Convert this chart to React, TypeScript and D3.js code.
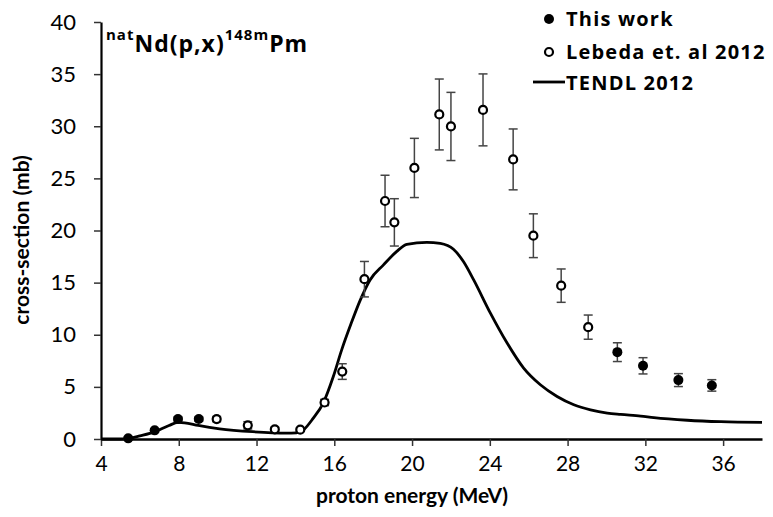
import React, { useEffect, useRef } from "react";
import * as d3 from "d3";

// This work (filled circles)
const twEnergy = [5.4, 6.76, 7.96, 9.03, 30.56, 31.88, 33.7, 35.42];
const twXs = [0.06, 0.83, 1.91, 1.91, 8.33, 7.02, 5.65, 5.14];
const twErr = [0.1, 0.15, 0.2, 0.2, 0.9, 0.78, 0.62, 0.55];

// Lebeda et. al 2012 (open circles)
const lebEnergy = [9.95, 11.55, 12.94, 14.25, 15.5, 16.41, 17.55, 18.61, 19.09, 20.12, 21.4, 22.0, 23.65, 25.2, 26.24, 27.67, 29.06];
const lebXs = [1.91, 1.31, 0.93, 0.89, 3.5, 6.47, 15.33, 22.83, 20.78, 26.0, 31.13, 29.98, 31.57, 26.82, 19.5, 14.71, 10.73];
const lebErr = [0.25, 0.35, 0.2, 0.15, 0.3, 0.75, 1.7, 2.47, 2.27, 2.84, 3.4, 3.27, 3.45, 2.92, 2.1, 1.6, 1.16];

// TENDL 2012
const tendlEnergy = [4, 5, 5.4, 6, 6.76, 7.5, 7.96, 8.3, 9, 10.1, 11.8, 13.5, 14.06, 14.4, 14.92, 15.43, 15.95, 16.38, 16.85, 17.33, 17.84, 18.53, 19.2, 19.73, 20.76, 21.45, 22.13, 22.65, 23.17, 24.03, 24.89, 25.74, 26.6, 27.46, 28.32, 29.18, 30.04, 30.73, 31.76, 32.44, 34.16, 35.88, 38];
const tendlXs = [0, 0, 0.05, 0.3, 0.68, 1.3, 1.59, 1.55, 1.3, 0.98, 0.7, 0.56, 0.58, 0.85, 2.0, 3.45, 6.0, 8.55, 11.0, 13.3, 15.26, 16.7, 17.97, 18.68, 18.87, 18.77, 18.2, 17.0, 15.26, 12.07, 9.2, 6.8, 5.2, 4.08, 3.29, 2.8, 2.49, 2.36, 2.2, 2.05, 1.8, 1.66, 1.59];

const xTicks = [4, 8, 12, 16, 20, 24, 28, 32, 36];
const yTicks = [0, 5, 10, 15, 20, 25, 30, 35, 40];

const FONT = "Lato, 'Open Sans', sans-serif";
const WIDE = "'Open Sans', Lato, sans-serif";

export default function App() {
  const ref = useRef<SVGSVGElement>(null);

  useEffect(() => {
    const width = 773;
    const height = 517;
    const margin = { top: 22, right: 11, bottom: 78, left: 101 };
    const innerWidth = width - margin.left - margin.right;
    const innerHeight = height - margin.top - margin.bottom;

    const svg = d3.select(ref.current).attr("width", width).attr("height", height);
    svg.selectAll("*").remove();
    svg.append("rect").attr("width", width).attr("height", height).attr("fill", "white");

    const g = svg.append("g").attr("transform", `translate(${margin.left}, ${margin.top})`);

    const x = d3.scaleLinear().domain([4, 38]).range([0, innerWidth]);
    const y = d3.scaleLinear().domain([0, 40]).range([innerHeight, 0]);

    // Y axis
    const yAxis = g.append("g")
      .call(d3.axisLeft(y).tickValues(yTicks).tickSize(7).tickSizeOuter(0).tickPadding(18));
    yAxis.select(".domain").attr("stroke", "#000").attr("stroke-width", 2.2);
    yAxis.selectAll(".tick line").attr("stroke", "#333").attr("stroke-width", 1.5);
    yAxis.selectAll("text")
      .attr("font-family", FONT)
      .attr("font-size", 22)
      .attr("fill", "#000");

    // X axis
    const xAxis = g.append("g")
      .attr("transform", `translate(0, ${innerHeight})`)
      .call(d3.axisBottom(x).tickValues(xTicks).tickSize(7).tickSizeOuter(0).tickPadding(10));
    xAxis.select(".domain").attr("stroke", "#000").attr("stroke-width", 2.5);
    xAxis.selectAll(".tick line").attr("stroke", "#333").attr("stroke-width", 1.5);
    xAxis.selectAll("text")
      .attr("font-family", FONT)
      .attr("font-size", 21)
      .attr("fill", "#000");

    // TENDL curve
    const line = d3.line<number>()
      .x((d, i) => x(tendlEnergy[i]))
      .y(d => y(d))
      .curve(d3.curveMonotoneX);
    g.append("path")
      .datum(tendlXs)
      .attr("d", line)
      .attr("fill", "none")
      .attr("stroke", "#000")
      .attr("stroke-width", 2.8);

    const errorBars = (energy: number[], xs: number[], err: number[]) => {
      const eb = g.append("g").attr("stroke", "#444").attr("stroke-width", 1.5);
      energy.forEach((e, i) => {
        const cx = x(e);
        const y1 = y(xs[i] + err[i]);
        const y2 = y(xs[i] - err[i]);
        eb.append("line").attr("x1", cx).attr("x2", cx).attr("y1", y1).attr("y2", y2);
        eb.append("line").attr("x1", cx - 4.5).attr("x2", cx + 4.5).attr("y1", y1).attr("y2", y1);
        eb.append("line").attr("x1", cx - 4.5).attr("x2", cx + 4.5).attr("y1", y2).attr("y2", y2);
      });
    };

    // Lebeda points
    errorBars(lebEnergy, lebXs, lebErr);
    g.selectAll(".leb")
      .data(lebEnergy)
      .enter()
      .append("circle")
      .attr("cx", d => x(d))
      .attr("cy", (d, i) => y(lebXs[i]))
      .attr("r", 4)
      .attr("fill", "white")
      .attr("stroke", "#000")
      .attr("stroke-width", 2.2);

    // This work points
    errorBars(twEnergy, twXs, twErr);
    g.selectAll(".tw")
      .data(twEnergy)
      .enter()
      .append("circle")
      .attr("cx", d => x(d))
      .attr("cy", (d, i) => y(twXs[i]))
      .attr("r", 5)
      .attr("fill", "#000");

    // axis titles
    svg.append("text")
      .attr("text-anchor", "middle")
      .attr("x", margin.left + x(20))
      .attr("y", 503)
      .attr("font-family", FONT)
      .attr("font-size", 21)
      .attr("font-weight", "bold")
      .text("proton energy (MeV)");

    svg.append("text")
      .attr("text-anchor", "middle")
      .attr("transform", "rotate(-90)")
      .attr("x", -240)
      .attr("y", 29)
      .attr("font-family", FONT)
      .attr("font-size", 21)
      .attr("font-weight", "bold")
      .text("cross-section (mb)");

    // reaction title
    const title = svg.append("text")
      .attr("x", 106)
      .attr("y", 52)
      .attr("font-family", WIDE)
      .attr("font-weight", "bold")
      .attr("letter-spacing", 1)
      .attr("font-size", 23);
    title.append("tspan").attr("font-size", 15).attr("dy", -12).text("nat");
    title.append("tspan").attr("dy", 12).text("Nd(p,x)");
    title.append("tspan").attr("font-size", 15).attr("dy", -12).text("148m");
    title.append("tspan").attr("dy", 12).text("Pm");

    // legend
    const legend = svg.append("g")
      .attr("font-family", WIDE)
      .attr("font-weight", "bold")
      .attr("font-size", 20)
      .attr("letter-spacing", 1.2);
    legend.append("circle").attr("cx", 549).attr("cy", 19).attr("r", 5).attr("fill", "#000");
    legend.append("text").attr("x", 566).attr("y", 26).text("This work");
    legend.append("circle").attr("cx", 549).attr("cy", 52).attr("r", 4)
      .attr("fill", "white").attr("stroke", "#000").attr("stroke-width", 2.2);
    legend.append("text").attr("x", 566).attr("y", 59).text("Lebeda et. al 2012");
    legend.append("line").attr("x1", 533).attr("x2", 565).attr("y1", 82).attr("y2", 82)
      .attr("stroke", "#000").attr("stroke-width", 2.8);
    legend.append("text").attr("x", 566).attr("y", 90).text("TENDL 2012");
  }, []);

  return (
    <svg ref={ref} style={{ position: "absolute", left: 0, top: 0, display: "block" }}></svg>
  );
}
